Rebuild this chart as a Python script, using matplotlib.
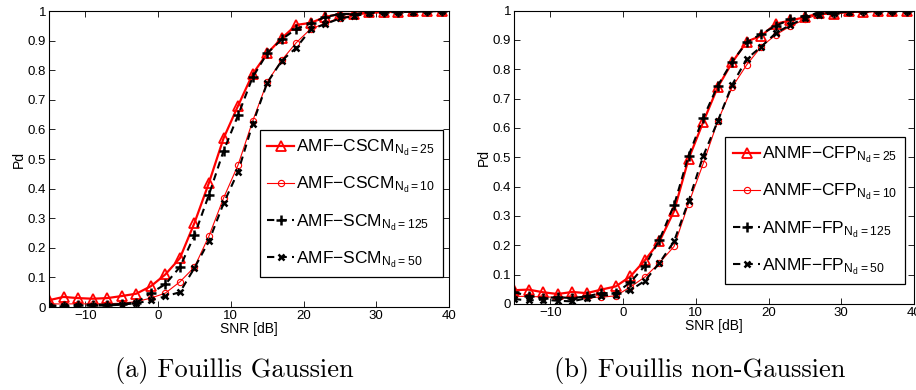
import numpy as np
import matplotlib
matplotlib.use("Agg")
import matplotlib.pyplot as plt

plt.rcParams['font.family'] = ['Liberation Sans', 'DejaVu Sans']
plt.rcParams['mathtext.default'] = 'regular'

# SNR grid (dB)
snr = [-15, -13, -11, -9, -7, -5, -3, -1, 1, 3, 5, 7, 9, 11, 13,
       15, 17, 19, 21, 23, 25, 27, 29, 31, 33, 35, 37, 39]

# (a) Gaussian clutter
amf_cscm25 = [0.023, 0.034, 0.030, 0.028, 0.030, 0.037, 0.045, 0.070, 0.110, 0.165,
              0.284, 0.420, 0.570, 0.680, 0.787, 0.857, 0.908, 0.953, 0.960, 0.980,
              0.990, 0.990, 0.995, 0.997, 0.998, 0.999, 1.000, 1.000]
amf_cscm10 = [0.011, 0.010, 0.011, 0.010, 0.011, 0.013, 0.018, 0.030, 0.047, 0.085,
              0.135, 0.240, 0.368, 0.480, 0.628, 0.760, 0.834, 0.893, 0.940, 0.958,
              0.978, 0.986, 0.992, 0.995, 0.997, 0.998, 0.999, 1.000]
amf_scm125 = [0.005, 0.005, 0.008, 0.008, 0.008, 0.010, 0.015, 0.047, 0.077, 0.135,
              0.242, 0.380, 0.527, 0.648, 0.776, 0.857, 0.904, 0.940, 0.958, 0.980,
              0.990, 0.990, 0.995, 0.997, 0.998, 0.999, 1.000, 1.000]
amf_scm50 = [0.002, 0.003, 0.004, 0.005, 0.005, 0.008, 0.013, 0.022, 0.036, 0.050,
             0.132, 0.223, 0.350, 0.457, 0.618, 0.757, 0.832, 0.876, 0.938, 0.956,
             0.975, 0.983, 0.992, 0.995, 0.997, 0.998, 0.999, 1.000]

# (b) non-Gaussian clutter
anmf_cfp25 = [0.047, 0.049, 0.040, 0.034, 0.041, 0.037, 0.049, 0.060, 0.094, 0.149,
              0.213, 0.316, 0.494, 0.619, 0.738, 0.823, 0.894, 0.914, 0.955, 0.966,
              0.977, 0.991, 0.989, 0.997, 0.995, 0.999, 0.999, 1.000]
anmf_cfp10 = [0.026, 0.026, 0.024, 0.023, 0.023, 0.023, 0.023, 0.028, 0.058, 0.092,
              0.140, 0.196, 0.342, 0.477, 0.622, 0.739, 0.815, 0.877, 0.917, 0.947,
              0.970, 0.988, 0.985, 0.996, 0.994, 0.998, 0.998, 1.000]
anmf_fp125 = [0.040, 0.028, 0.020, 0.023, 0.020, 0.026, 0.037, 0.037, 0.074, 0.130,
              0.219, 0.336, 0.505, 0.633, 0.743, 0.826, 0.891, 0.920, 0.948, 0.970,
              0.982, 0.991, 0.993, 0.997, 0.998, 0.999, 1.000, 1.000]
anmf_fp50 = [0.017, 0.012, 0.015, 0.011, 0.009, 0.020, 0.028, 0.032, 0.047, 0.079,
             0.140, 0.213, 0.350, 0.503, 0.622, 0.747, 0.835, 0.877, 0.923, 0.951,
             0.974, 0.985, 0.991, 0.996, 0.997, 0.999, 1.000, 1.000]

labels_a = ['AMF\u2212CSCM$_{N_d=25}$', 'AMF\u2212CSCM$_{N_d=10}$',
            'AMF\u2212SCM$_{N_d=125}$', 'AMF\u2212SCM$_{N_d=50}$']
labels_b = ['ANMF\u2212CFP$_{N_d=25}$', 'ANMF\u2212CFP$_{N_d=10}$',
            'ANMF\u2212FP$_{N_d=125}$', 'ANMF\u2212FP$_{N_d=50}$']


def draw_panel(ax, series, labels, leg_anchor):
    s1, s2, s3, s4 = series
    ax.plot(snr, s1, color='red', lw=1.6, marker='^', ms=7.5, mfc='none',
            mew=1.3, label=labels[0])
    ax.plot(snr, s2, color='red', lw=0.8, marker='o', ms=4.5, mfc='none',
            mew=0.8, label=labels[1])
    ax.plot(snr, s3, color='black', lw=1.5, ls=(0, (3.5, 2.5)), marker='+',
            ms=7, mew=1.8, label=labels[2])
    ax.plot(snr, s4, color='black', lw=1.5, ls=(0, (3.5, 2.5)), marker='x',
            ms=4.5, mew=1.8, label=labels[3])
    ax.set_xlim(-15, 40)
    ax.set_ylim(0, 1)
    ax.set_xticks([-10, 0, 10, 20, 30, 40])
    ax.set_xticklabels(['\u221210', '0', '10', '20', '30', '40'])
    ax.set_yticks(np.arange(0, 1.01, 0.1))
    ax.set_yticklabels(['0'] + ['%.1f' % v for v in np.arange(0.1, 0.95, 0.1)] + ['1'])
    ax.tick_params(direction='in', top=True, right=True, labelsize=9.5,
                   length=4, width=0.6, pad=2)
    for sp in ax.spines.values():
        sp.set_linewidth(0.8)
    ax.set_xlabel('SNR [dB]', fontsize=10, labelpad=0)
    ax.set_ylabel('Pd', fontsize=10, labelpad=1)
    leg = ax.legend(loc='upper right', bbox_to_anchor=leg_anchor,
                    borderaxespad=0, fancybox=False, framealpha=1,
                    edgecolor='black', fontsize=12.5, handlelength=1.55,
                    handletextpad=0.1, labelspacing=0.95, borderpad=0.45)
    leg.get_frame().set_linewidth(0.9)


fig = plt.figure(figsize=(9.16, 3.9), dpi=100)
ax1 = fig.add_axes([49 / 916, 1 - 307 / 390, 400 / 916, 296 / 390])
ax2 = fig.add_axes([514 / 916, 1 - 304 / 390, 400 / 916, 293.5 / 390])

draw_panel(ax1, [amf_cscm25, amf_cscm10, amf_scm125, amf_scm50], labels_a,
           (0.985, 0.598))
draw_panel(ax2, [anmf_cfp25, anmf_cfp10, anmf_fp125, anmf_fp50], labels_b,
           (0.977, 0.569))

fig.text(234 / 916, 1 - 370 / 390, '(a) Fouillis Gaussien', family='cmr10',
         fontsize=19, ha='center', va='center')
fig.text(700 / 916, 1 - 370 / 390, '(b) Fouillis non-Gaussien', family='cmr10',
         fontsize=19, ha='center', va='center')

fig.savefig('out.png', dpi=100)
